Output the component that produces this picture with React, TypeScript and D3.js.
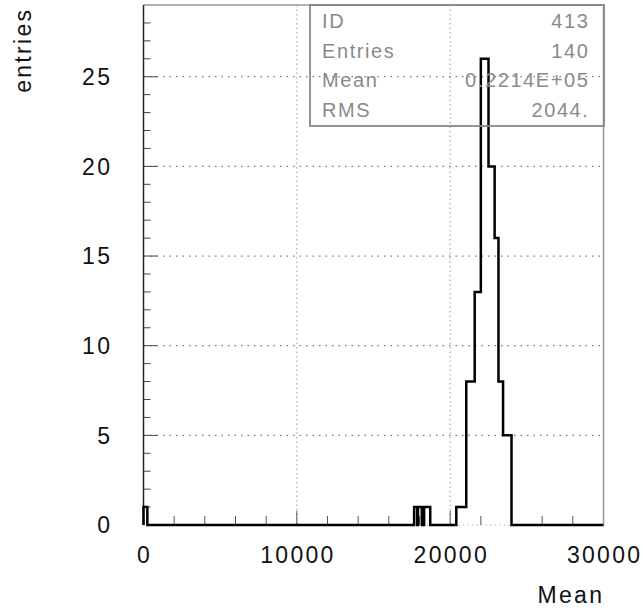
import React from "react";
import * as d3 from "d3";

const xDomain = [0, 30000];
const yDomain = [0, 29];
const xTickLabels = [0, 10000, 20000, 30000];
const yTickLabels = [0, 5, 10, 15, 20, 25];
const xGrid = [10000, 20000];
const yGrid = [5, 10, 15, 20, 25];

const binLow = [0, 17650, 17900, 18300, 20400, 21050, 21600, 22000, 22500, 22900, 23150, 23450];
const binHigh = [250, 17850, 18150, 18700, 21050, 21600, 22000, 22500, 22900, 23150, 23450, 24000];
const binCount = [1, 1, 1, 1, 1, 8, 13, 26, 20, 16, 8, 5];

const statLabels = ["ID", "Entries", "Mean", "RMS"];
const statValues = ["413", "140", "0.2214E+05", "2044."];

const W = 644;
const H = 613;
const FONT = "'Liberation Sans', Arial, sans-serif";

export default function App() {
  const x = d3.scaleLinear().domain(xDomain).range([143.5, 603.5]);
  const y = d3.scaleLinear().domain(yDomain).range([525, 5]);

  const pts: [number, number][] = [[xDomain[0], 0]];
  let lastX = xDomain[0];
  let lastY = 0;
  binLow.forEach((lo, i) => {
    const hi = binHigh[i];
    const c = binCount[i];
    if (lo > lastX) {
      if (lastY !== 0) pts.push([lastX, 0]);
      pts.push([lo, 0]);
      lastY = 0;
    }
    pts.push([lo, c]);
    pts.push([hi, c]);
    lastX = hi;
    lastY = c;
  });
  pts.push([lastX, 0]);
  pts.push([xDomain[1], 0]);

  const line = d3
    .line<[number, number]>()
    .x((d) => x(d[0]))
    .y((d) => y(d[1]));

  const yMinor = d3.range(1, 29);
  const xMinor = d3.range(2000, 30000, 2000);
  const x0 = x(xDomain[0]);
  const x1 = x(xDomain[1]);
  const yTop = y(yDomain[1]);
  const yBot = y(0);

  const ls = 2.3;
  const fs = 23;

  return (
    <svg
      width={W}
      height={H}
      style={{ position: "absolute", left: 0, top: 0, background: "#fff" }}
    >
      <rect x={0} y={0} width={W} height={H} fill="#fff" />
      {yGrid.map((v) => (
        <line
          key={"gy" + v}
          x1={x0}
          x2={x1}
          y1={y(v)}
          y2={y(v)}
          stroke="#777"
          strokeWidth={1.3}
          strokeDasharray="1.5 5"
        />
      ))}
      {xGrid.map((v) => (
        <line
          key={"gx" + v}
          x1={x(v)}
          x2={x(v)}
          y1={yTop}
          y2={yBot}
          stroke="#aaa"
          strokeWidth={1.2}
          strokeDasharray="1.5 3"
        />
      ))}
      <line x1={x0} x2={x1} y1={yTop} y2={yTop} stroke="#999" strokeWidth={1.5} />
      <line x1={x1} x2={x1} y1={yTop} y2={yBot} stroke="#999" strokeWidth={1.5} />
      <line x1={x0} x2={x1} y1={yBot} y2={yBot} stroke="#bbb" strokeWidth={1} strokeDasharray="1.5 3" />
      <line x1={x0} x2={x0} y1={yTop} y2={yBot} stroke="#222" strokeWidth={1.5} />
      {yMinor.map((v) => (
        <line
          key={"ty" + v}
          x1={x0}
          x2={x0 + (v % 5 === 0 ? 14 : 7)}
          y1={y(v)}
          y2={y(v)}
          stroke="#444"
          strokeWidth={1}
        />
      ))}
      {xMinor.map((v) => (
        <line
          key={"tx" + v}
          x1={x(v)}
          x2={x(v)}
          y1={yBot}
          y2={yBot - (v % 10000 === 0 ? 14 : 9)}
          stroke="#555"
          strokeWidth={1}
        />
      ))}
      <path d={line(pts) || ""} fill="none" stroke="#000" strokeWidth={2.5} strokeLinejoin="miter" />
      <rect x={310} y={5} width={294} height={121} fill="none" stroke="#888" strokeWidth={1.8} />
      {statLabels.map((s, i) => (
        <text
          key={"sl" + s}
          x={322}
          y={28 + i * 29.7}
          fontFamily={FONT}
          fontSize={20}
          fill="#8a8a8a"
          letterSpacing={1.6}
        >
          {s}
        </text>
      ))}
      {statValues.map((s, i) => (
        <text
          key={"sv" + i}
          x={589.5}
          y={28 + i * 29.7}
          fontFamily={FONT}
          fontSize={20}
          fill="#8a8a8a"
          letterSpacing={1.6}
          textAnchor="end"
        >
          {s}
        </text>
      ))}
      {yTickLabels.map((v) => (
        <text
          key={"ly" + v}
          x={110 + ls}
          y={y(v)}
          dy="0.36em"
          fontFamily={FONT}
          fontSize={fs}
          fill="#111"
          letterSpacing={ls}
          textAnchor="end"
        >
          {v}
        </text>
      ))}
      {xTickLabels.map((v) => (
        <text
          key={"lx" + v}
          x={x(v) + ls / 2}
          y={563}
          fontFamily={FONT}
          fontSize={fs}
          fill="#111"
          letterSpacing={ls}
          textAnchor="middle"
        >
          {v}
        </text>
      ))}
      <text
        x={602 + ls}
        y={603}
        fontFamily={FONT}
        fontSize={fs}
        fill="#111"
        letterSpacing={ls}
        textAnchor="end"
      >
        Mean
      </text>
      <text
        transform={`translate(31, ${10 - ls}) rotate(-90)`}
        fontFamily={FONT}
        fontSize={fs}
        fill="#111"
        letterSpacing={ls}
        textAnchor="end"
      >
        entries
      </text>
    </svg>
  );
}
